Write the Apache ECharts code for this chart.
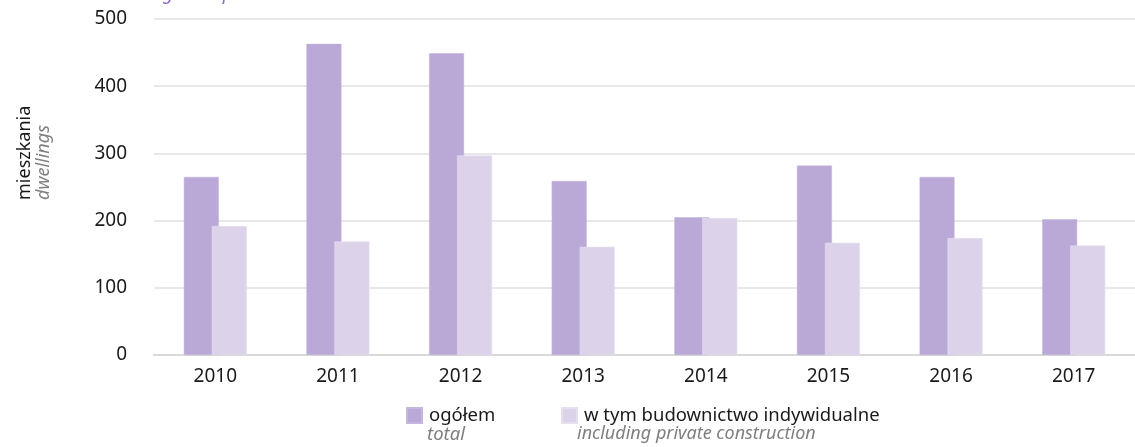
<!DOCTYPE html>
<html>
<head>
<meta charset="utf-8">
<script src="https://cdn.jsdelivr.net/npm/echarts@6/dist/echarts.min.js"></script>
<style>
  html, body { margin: 0; padding: 0; background: #fff; }
  #chart { width: 1135px; height: 447px; }
</style>
</head>
<body>
<div id="chart"></div>
<script>
// lata
var years = ['2010', '2011', '2012', '2013', '2014', '2015', '2016', '2017']
// mieszkania ogółem / total
var totalDwellings = [265, 463, 449, 259, 205, 282, 265, 202]
// w tym budownictwo indywidualne / including private construction
var privateDwellings = [192, 169, 297, 161, 204, 167, 174, 163]
var yTicks = [0, 100, 200, 300, 400, 500]

var font = 'Noto Sans'
var chart = echarts.init(document.getElementById('chart'))

function legendAt(name, left) {
  return {
    left: left,
    top: 406,
    padding: 0,
    itemWidth: 15,
    itemHeight: 15,
    icon: 'rect',
    textStyle: { fontSize: 18.5, color: '#1a1a1a', fontFamily: font, padding: [0, 0, 0, 2] },
    data: [name]
  }
}

chart.setOption({
  animation: false,
  textStyle: { fontFamily: font },
  color: ['#baa8d6', '#dcd3ea'],
  grid: { left: 154, right: -10, top: 19, bottom: 92 },
  legend: [
    legendAt('ogółem', 406),
    legendAt('w tym budownictwo indywidualne', 561)
  ],
  xAxis: {
    type: 'category',
    data: years,
    axisLine: { lineStyle: { color: '#d9d9d9', width: 2 } },
    axisTick: { length: 5, lineStyle: { color: '#d9d9d9', width: 2 } },
    axisLabel: { color: '#1a1a1a', fontSize: 19, margin: 12 }
  },
  yAxis: {
    type: 'value',
    min: yTicks[0],
    max: yTicks[yTicks.length - 1],
    interval: 100,
    axisLine: { show: false },
    axisTick: { show: false },
    splitLine: { lineStyle: { color: '#e0e0e0', width: 1.5 } },
    axisLabel: { color: '#1a1a1a', fontSize: 19, margin: 27 }
  },
  series: [
    {
      name: 'ogółem',
      type: 'bar',
      data: totalDwellings,
      barWidth: 35,
      barGap: '-20%',
      itemStyle: { color: '#baa8d6', borderColor: '#c5b6de', borderWidth: 0.5 }
    },
    {
      name: 'w tym budownictwo indywidualne',
      type: 'bar',
      data: privateDwellings,
      barWidth: 35,
      itemStyle: { color: '#dcd3ea', borderColor: '#e6dff0', borderWidth: 0.5 }
    }
  ],
  graphic: [
    {
      type: 'text',
      x: 101,
      y: -16,
      style: { text: 'Dwellings completed', font: 'italic 19px "Noto Sans"', fill: '#8d6cc3' }
    },
    {
      type: 'text',
      x: 25,
      y: 200,
      rotation: Math.PI / 2,
      style: {
        text: 'mieszkania',
        font: '18px "Noto Sans"',
        fill: '#1a1a1a',
        textAlign: 'left',
        textVerticalAlign: 'middle'
      }
    },
    {
      type: 'text',
      x: 44,
      y: 200,
      rotation: Math.PI / 2,
      style: {
        text: 'dwellings',
        font: 'italic 18px "Noto Sans"',
        fill: '#7f7f7f',
        textAlign: 'left',
        textVerticalAlign: 'middle'
      }
    },
    {
      type: 'text',
      x: 427,
      y: 425,
      style: { text: 'total', font: 'italic 18.5px "Noto Sans"', fill: '#7f7f7f' }
    },
    {
      type: 'text',
      x: 577,
      y: 425,
      style: { text: 'including private construction', font: 'italic 18px "Noto Sans"', fill: '#7f7f7f' }
    }
  ]
})
</script>
</body>
</html>
